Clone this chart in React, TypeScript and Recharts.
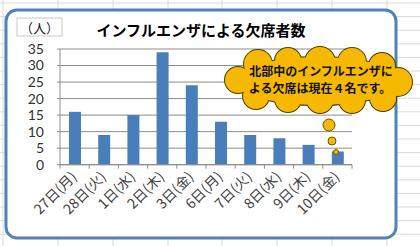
import React from 'react'
import { BarChart, Bar, XAxis, YAxis, CartesianGrid } from 'recharts'

const days = ['27日(月)', '28日(火)', '1日(水)', '2日(木)', '3日(金)', '6日(月)', '7日(火)', '8日(水)', '9日(木)', '10日(金)']
const absences = [16, 9, 15, 34, 24, 13, 9, 8, 6, 4]
const yTicks = [0, 5, 10, 15, 20, 25, 30, 35]

const data = days.map((day, i) => ({ day, absences: absences[i] }))

const FONT = '"Noto Sans CJK JP", "Noto Sans", sans-serif'
const W = 420
const H = 246
const PLOT_LEFT = 60
const PLOT_RIGHT = 352
const BAND = (PLOT_RIGHT - PLOT_LEFT) / days.length

function DayTick(props: any) {
  const { x, y, payload, index } = props
  const tx = x + 3
  const ty = y + 13
  return (
    <g>
      <line x1={x - BAND / 2} x2={x - BAND / 2} y1={y} y2={y + 4} stroke="#8c8c8c" />
      {index === days.length - 1 && (
        <line x1={x + BAND / 2} x2={x + BAND / 2} y1={y} y2={y + 4} stroke="#8c8c8c" />
      )}
      <text
        x={tx}
        y={ty}
        transform={`rotate(-45, ${tx}, ${ty})`}
        textAnchor="end"
        fontSize={14}
        fill="#404040"
        fontFamily={FONT}
      >
        {payload.value}
      </text>
    </g>
  )
}

function SheetBackground() {
  const cols = [3, 58, 113, 168, 222, 277, 332, 387]
  const rows: number[] = []
  for (let y = 3; y < H; y += 13.6) rows.push(y)
  return (
    <svg width={W} height={H} style={{ position: 'absolute', left: 0, top: 0 }}>
      <rect width={W} height={H} fill="#ffffff" />
      {rows.map((y) => (
        <line key={'r' + y} x1={0} x2={W} y1={y} y2={y} stroke="#dadada" />
      ))}
      {cols.map((x) => (
        <line key={'c' + x} x1={x} x2={x} y1={0} y2={H} stroke="#dadada" />
      ))}
      <rect x={6} y={10} width={390} height={228} rx={11} fill="#ffffff" stroke="#4f81bd" strokeWidth={3} />
    </svg>
  )
}

// cloud callout made of overlapping bumps
const bumps = [
  [258, 64, 14], [288, 61, 13], [320, 62, 15], [352, 62, 14], [382, 66, 13],
  [398, 82, 14], [383, 98, 13], [352, 100, 13], [320, 100, 13], [288, 99, 13],
  [256, 96, 13], [238, 80, 13],
]

function Overlay() {
  return (
    <svg width={W} height={H} style={{ position: 'absolute', left: 0, top: 0 }}>
      <rect x={17} y={18} width={45} height={18} fill="#ffffff" stroke="#c8c8c8" />
      <text x={39.5} y={27.5} textAnchor="middle" dominantBaseline="central" fontSize={13} fill="#222" fontFamily={FONT}>
        （人）
      </text>
      <text x={201} y={29} textAnchor="middle" dominantBaseline="central" fontSize={15} fontWeight="bold" fill="#000" fontFamily={FONT}>
        インフルエンザによる欠席者数
      </text>
      <g>
        {bumps.map(([cx, cy, r], i) => (
          <circle key={'s' + i} cx={cx} cy={cy} r={r} fill="#f7b900" stroke="#4d3c00" strokeWidth={2} />
        ))}
        <ellipse cx={318} cy={81} rx={82} ry={24} fill="#f7b900" stroke="#4d3c00" strokeWidth={2} />
        {bumps.map(([cx, cy, r], i) => (
          <circle key={'f' + i} cx={cx} cy={cy} r={r} fill="#f7b900" />
        ))}
        <ellipse cx={318} cy={81} rx={82} ry={24} fill="#f7b900" />
      </g>
      <text x={321} y={70} textAnchor="middle" dominantBaseline="central" fontSize={12} fontWeight="bold" fill="#111" fontFamily={FONT}>
        北部中のインフルエンザに
      </text>
      <text x={320} y={87} textAnchor="middle" dominantBaseline="central" fontSize={12} fontWeight="bold" fill="#111" fontFamily={FONT}>
        よる欠席は現在４名です。
      </text>
      <circle cx={329} cy={125} r={6} fill="#f7b900" stroke="#6b5400" />
      <circle cx={332} cy={141} r={4} fill="#f7b900" stroke="#6b5400" />
      <circle cx={336} cy={152} r={2.5} fill="#f7b900" stroke="#6b5400" />
    </svg>
  )
}

export default function App() {
  return (
    <div style={{ position: 'absolute', left: 0, top: 0, width: W, height: H, overflow: 'hidden' }}>
      <SheetBackground />
      <div style={{ position: 'absolute', left: 0, top: 0 }}>
        <BarChart
          width={W}
          height={H}
          data={data}
          margin={{ top: 49, right: W - PLOT_RIGHT, bottom: 51.3, left: 0 }}
          barSize={12}
        >
          <CartesianGrid vertical={false} stroke="#8c8c8c" />
          <XAxis
            dataKey="day"
            interval={0}
            height={30}
            tickLine={false}
            tickSize={0}
            tickMargin={0}
            axisLine={{ stroke: '#8c8c8c' }}
            tick={<DayTick />}
          />
          <YAxis
            width={PLOT_LEFT}
            domain={[0, 35]}
            ticks={yTicks}
            interval={0}
            tickSize={3}
            tickMargin={13}
            axisLine={{ stroke: '#8c8c8c' }}
            tickLine={{ stroke: '#8c8c8c' }}
            tick={{ fontSize: 14, fill: '#333', fontFamily: 'Lato, sans-serif' }}
          />
          <Bar dataKey="absences" fill="#4a7ebb" isAnimationActive={false} />
        </BarChart>
      </div>
      <Overlay />
    </div>
  )
}
